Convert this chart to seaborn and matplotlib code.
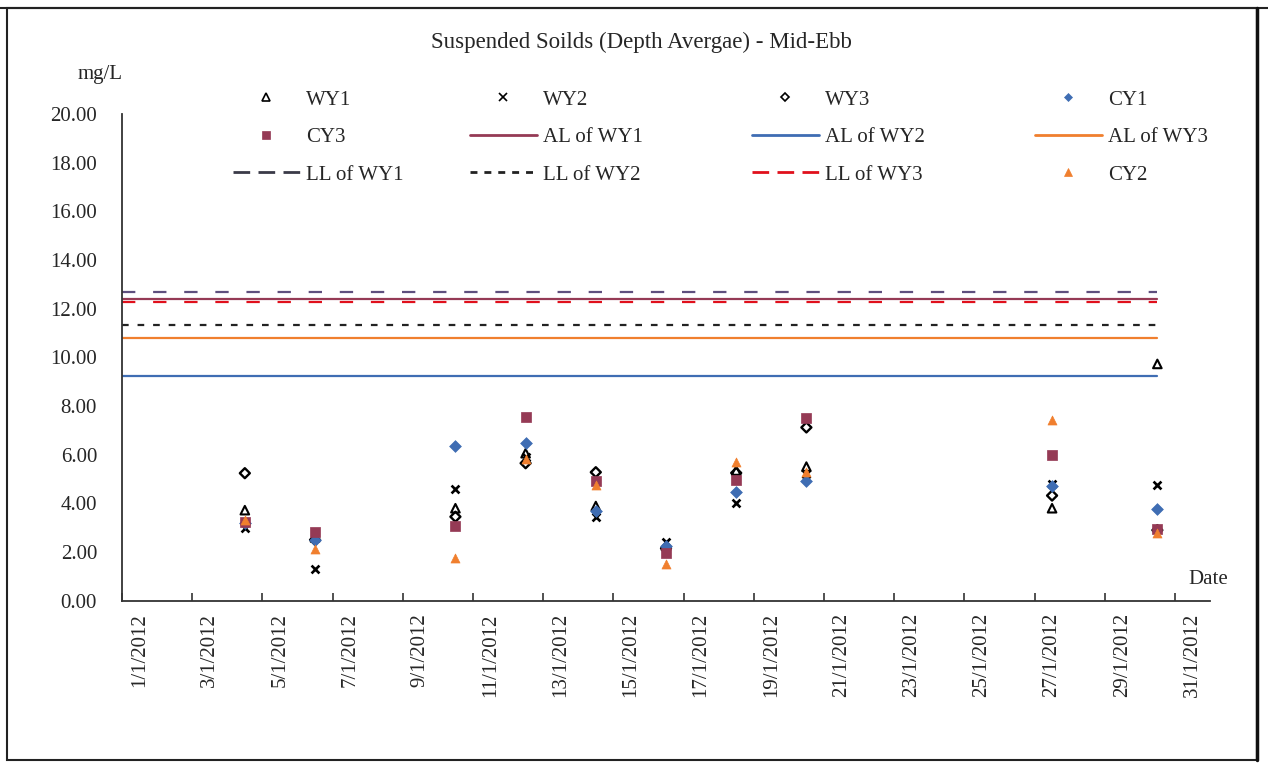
import matplotlib
matplotlib.use("Agg")
import matplotlib.pyplot as plt
import seaborn as sns
import pandas as pd
from matplotlib.lines import Line2D
from matplotlib.patches import Rectangle

# ---------------- data ----------------
days = [4, 6, 10, 12, 14, 16, 18, 20, 27, 30]
wy1 = [3.72, 2.60, 3.80, 6.06, 3.89, 2.25, 5.35, 5.51, 3.80, 9.73]
wy2 = [3.00, 1.29, 4.58, 5.90, 3.45, 2.40, 4.02, 5.20, 4.78, 4.76]
wy3 = [5.24, 2.50, 3.45, 5.65, 5.28, 2.15, 5.25, 7.12, 4.32, 2.90]
cy1 = [3.20, 2.50, 6.35, 6.47, 3.70, 2.25, 4.45, 4.92, 4.72, 3.76]
cy3 = [3.25, 2.84, 3.07, 7.56, 4.90, 1.98, 4.98, 7.52, 5.99, 2.95]
cy2 = [3.30, 2.12, 1.74, 5.81, 4.75, 1.50, 5.68, 5.30, 7.43, 2.78]

al_wy1 = 12.39
al_wy2 = 9.25
al_wy3 = 10.78
ll_wy1 = 12.69
ll_wy2 = 11.32
ll_wy3 = 12.26

tick_days = list(range(1, 32, 2))
tick_labels = [f"{d}/1/2012" for d in tick_days]
y_ticks = list(range(0, 21, 2))

# ---------------- style ----------------
sns.set_theme(style="white")
plt.rcParams['font.family'] = ['Liberation Serif', 'DejaVu Serif']

W, H = 1268, 769
fig = plt.figure(figsize=(W / 100, H / 100), dpi=100)
fig.patch.set_facecolor("white")
ax = fig.add_axes([122 / W, 1 - 600.7 / H, (1210 - 122) / W, (600.7 - 114) / H])
ax.set_facecolor("white")

c_blue = "#3F6DB3"
c_maroon = "#953A55"
c_orange = "#F07F2E"
c_red = "#E0101C"
c_purple = "#5E4F7E"

df = pd.DataFrame({"day": days, "WY1": wy1, "WY2": wy2, "WY3": wy3,
                   "CY1": cy1, "CY3": cy3, "CY2": cy2})

sns.scatterplot(data=df, x="day", y="WY1", marker="^", s=38, facecolor="none",
                edgecolor="black", linewidth=1.5, ax=ax, legend=False, zorder=3)
sns.scatterplot(data=df, x="day", y="WY2", marker="x", s=32, color="black",
                linewidth=1.9, ax=ax, legend=False, zorder=3)
sns.scatterplot(data=df, x="day", y="WY3", marker="D", s=26, facecolor="none",
                edgecolor="black", linewidth=1.7, ax=ax, legend=False, zorder=3)
sns.scatterplot(data=df, x="day", y="CY1", marker="D", s=36, color=c_blue,
                edgecolor=c_blue, linewidth=0.5, ax=ax, legend=False, zorder=3)
sns.scatterplot(data=df, x="day", y="CY3", marker="s", s=52, color=c_maroon,
                edgecolor=c_maroon, linewidth=0.5, ax=ax, legend=False, zorder=3)

span = [0.5, 30]
ax.plot(span, [al_wy1] * 2, color=c_maroon, lw=1.6, zorder=2)
ax.plot(span, [al_wy2] * 2, color=c_blue, lw=1.6, zorder=2)
ax.plot(span, [al_wy3] * 2, color=c_orange, lw=1.6, zorder=2)
ax.plot(span, [ll_wy1] * 2, color=c_purple, lw=1.6, dashes=(6, 8), zorder=2)
ax.plot(span, [ll_wy2] * 2, color="#222222", lw=1.6, dashes=(3, 4), zorder=2)
ax.plot(span, [ll_wy3] * 2, color=c_red, lw=1.6, dashes=(6, 8), zorder=2)

sns.scatterplot(data=df, x="day", y="CY2", marker="^", s=42, color=c_orange,
                edgecolor=c_orange, linewidth=0.5, ax=ax, legend=False, zorder=4)

# ---------------- axes ----------------
ax.set_xlim(0.5, 31.5)
ax.set_ylim(0, 20)
ax.set_xlabel("")
ax.set_ylabel("")
for s in ["top", "right"]:
    ax.spines[s].set_visible(False)
for s in ["left", "bottom"]:
    ax.spines[s].set_color("#333333")
    ax.spines[s].set_linewidth(1.3)

ax.set_yticks(y_ticks)
ax.set_yticklabels([f"{v:.2f}" for v in y_ticks], fontsize=15)
ax.tick_params(axis="y", direction="in", length=6, width=1.2, color="#333333", pad=18)

ax.set_xticks(tick_days)
ax.set_xticklabels(tick_labels, rotation=90, fontsize=15, va="top", ha="center")
ax.tick_params(axis="x", which="major", length=0, pad=9)
ax.set_xticks([d - 0.5 for d in tick_days], minor=True)
ax.tick_params(axis="x", which="minor", direction="in", length=6, width=1.2,
               color="#333333", bottom=True)

fig.text(100 / W, 1 - 75 / H, "mg/L", fontsize=15, ha="center", va="center")
fig.text(1208 / W, 1 - 580 / H, "Date", fontsize=15, ha="center", va="center")
fig.text(641 / W, 1 - 42 / H, "Suspended Soilds (Depth Avergae) - Mid-Ebb",
         fontsize=16.5, ha="center", va="center")

# ---------------- legend (4 columns) ----------------
def mk(marker, fc, ec, ms, mew=1.2):
    return Line2D([], [], linestyle="none", marker=marker, markerfacecolor=fc,
                  markeredgecolor=ec, markersize=ms, markeredgewidth=mew)

def ln(color, dashes=None):
    l = Line2D([], [], color=color, lw=2)
    if dashes is not None:
        l.set_dashes(dashes)
    return l

columns = [
    ([mk("^", "none", "black", 6), mk("s", c_maroon, c_maroon, 5.5, 0.5), ln("#3a3a48", (6, 3))],
     ["WY1", "CY3", "LL of WY1"], 233),
    ([mk("x", "black", "black", 5.5), ln(c_maroon), ln("#222222", (2.5, 2.5))],
     ["WY2", "AL of WY1", "LL of WY2"], 470),
    ([mk("D", "none", "black", 4.5), ln(c_blue), ln(c_red, (6, 3))],
     ["WY3", "AL of WY2", "LL of WY3"], 752),
    ([mk("D", c_blue, c_blue, 4.5, 0.5), ln(c_orange), mk("^", c_orange, c_orange, 6, 0.5)],
     ["CY1", "AL of WY3", "CY2"], 1035),
]
for handles, labels, xpx in columns:
    fig.legend(handles, labels, loc="upper left",
               bbox_to_anchor=(xpx / W, 1 - 90 / H), bbox_transform=fig.transFigure,
               frameon=False, fontsize=15, handlelength=3.2, handletextpad=0.3,
               labelspacing=0.86, borderpad=0, borderaxespad=0, numpoints=1)

# ---------------- outer frame ----------------
fig.add_artist(Rectangle((7 / W, 1 - 760 / H), (1257 - 7) / W, (760 - 8) / H,
                         transform=fig.transFigure, fill=False, edgecolor="#222222", lw=1.5))
fig.add_artist(Line2D([0, 1], [1 - 8 / H, 1 - 8 / H], transform=fig.transFigure,
                      color="#222222", lw=1.5))
fig.add_artist(Line2D([1257 / W, 1257 / W], [1 - 760 / H, 1 - 8 / H],
                      transform=fig.transFigure, color="#111111", lw=2.5))

fig.savefig("out.png", dpi=100, facecolor="white")
